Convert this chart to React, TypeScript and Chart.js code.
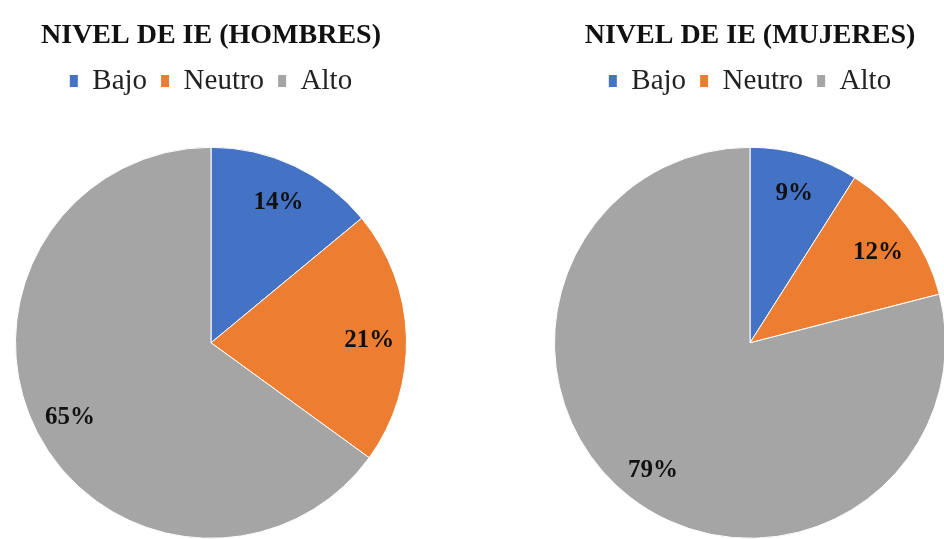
import React, { useEffect, useRef } from "react";
import { Chart, registerables } from "chart.js";

Chart.register(...registerables);

const categories = ["Bajo", "Neutro", "Alto"];
const hombresValues = [14, 21, 65];
const mujeresValues = [9, 12, 79];
const chartTitles = ["NIVEL DE IE (HOMBRES)", "NIVEL DE IE (MUJERES)"];
const sliceColors = ["#4472C4", "#ED7D31", "#A5A5A5"];

const FONT = "'Liberation Serif', 'Times New Roman', serif";

const pctLabels = {
  id: "pctLabels",
  afterDatasetsDraw(chart: any) {
    const ctx = chart.ctx;
    const meta = chart.getDatasetMeta(0);
    const data = chart.data.datasets[0].data;
    ctx.save();
    ctx.font = `bold 25px ${FONT}`;
    ctx.fillStyle = "#111";
    ctx.textAlign = "center";
    ctx.textBaseline = "middle";
    meta.data.forEach((arc: any, i: number) => {
      const { x, y, startAngle, endAngle, outerRadius } = arc.getProps(
        ["x", "y", "startAngle", "endAngle", "outerRadius"],
        true
      );
      const mid = (startAngle + endAngle) / 2;
      const r = outerRadius * 0.81;
      ctx.fillText(`${data[i]}%`, x + Math.cos(mid) * r, y + Math.sin(mid) * r + 3);
    });
    ctx.restore();
  },
};

const CW = 422;
const CH = 580;

function PieChart({ title, values, left }: { title: string; values: number[]; left: number }) {
  const ref = useRef<HTMLCanvasElement | null>(null);
  useEffect(() => {
    if (!ref.current) return;
    const baseGen = (Chart as any).overrides.pie.plugins.legend.labels.generateLabels;
    const chart = new Chart(ref.current, {
      type: "pie",
      data: {
        labels: categories,
        datasets: [
          {
            data: values,
            backgroundColor: sliceColors,
            borderColor: "#ffffff",
            borderWidth: 1,
          },
        ],
      },
      options: {
        responsive: false,
        animation: false,
        layout: { padding: { left: 15, right: 15, top: 0, bottom: 0 } },
        plugins: {
          title: {
            display: true,
            text: title,
            color: "#111",
            font: { family: FONT, size: 28, weight: "bold" },
            padding: { top: 19, bottom: 0 },
          },
          legend: {
            display: true,
            position: "top",
            labels: {
              color: "#222",
              font: { family: FONT, size: 29 },
              boxWidth: 8,
              boxHeight: 12,
              padding: 14,
              generateLabels: (c: any) =>
                baseGen(c).map((l: any) => ({ ...l, lineWidth: 0, strokeStyle: l.fillStyle })),
            },
          },
          tooltip: { enabled: false },
        },
      },
      plugins: [pctLabels],
    } as any);
    return () => chart.destroy();
  }, [title, values]);
  return (
    <div style={{ position: "absolute", left, top: 0, width: CW, height: CH }}>
      <canvas ref={ref} width={CW} height={CH} style={{ width: CW, height: CH, display: "block" }} />
    </div>
  );
}

export default function App() {
  useEffect(() => {
    document.body.style.margin = "0";
    document.body.style.background = "#ffffff";
  }, []);
  return (
    <div style={{ position: "relative", width: 944, height: 539, overflow: "hidden", background: "#fff" }}>
      <PieChart title={chartTitles[0]} values={hombresValues} left={0} />
      <PieChart title={chartTitles[1]} values={mujeresValues} left={539} />
    </div>
  );
}
